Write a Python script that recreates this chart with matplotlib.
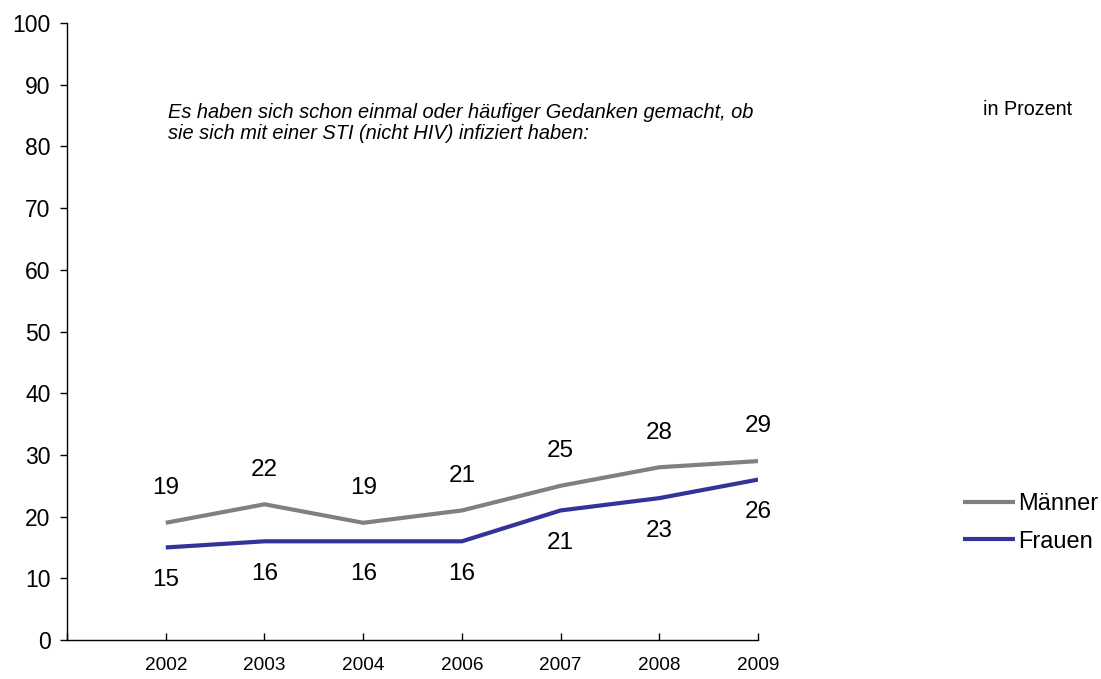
import matplotlib
matplotlib.use("Agg")
import matplotlib.pyplot as plt

plt.rcParams['font.family'] = ['Liberation Sans', 'DejaVu Sans']

# Daten
jahre = ['2002', '2003', '2004', '2006', '2007', '2008', '2009']
maenner = [19, 22, 19, 21, 25, 28, 29]
frauen = [15, 16, 16, 16, 21, 23, 26]

grau = '#808080'
blau = '#333399'

fig = plt.figure(figsize=(11.01, 6.79), dpi=100)
ax = fig.add_axes([0.0609, 0.0574, 0.6276, 0.9087])

x = list(range(len(jahre)))
ax.plot(x, maenner, color=grau, lw=3, label='Männer', solid_capstyle='butt')
ax.plot(x, frauen, color=blau, lw=3, label='Frauen', solid_capstyle='butt')

# Datenbeschriftungen: Männer oben, Frauen unten
for i in x:
    ax.annotate(str(maenner[i]), (i, maenner[i]), xytext=(0, 25), textcoords='offset points',
                ha='center', va='center', fontsize=17.5)
    ax.annotate(str(frauen[i]), (i, frauen[i]), xytext=(0, -23.5), textcoords='offset points',
                ha='center', va='center', fontsize=17.5)

ax.set_xlim(-1, len(jahre) - 1)
ax.set_ylim(0, 100)
ax.set_yticks(range(0, 101, 10))
ax.tick_params(axis='y', direction='out', length=5, width=1, labelsize=16.5, pad=7)
ax.set_xticks(range(-1, len(jahre)))
ax.set_xticklabels([''] + jahre)
ax.tick_params(axis='x', direction='in', length=5, width=1, labelsize=13.7, pad=12)

for s in ['top', 'right']:
    ax.spines[s].set_visible(False)
for s in ['left', 'bottom']:
    ax.spines[s].set_linewidth(1)
ax.spines['bottom'].set_bounds(-1, len(jahre) - 1)

fig.text(0.1526, 0.819, 'Es haben sich schon einmal oder häufiger Gedanken gemacht, ob\n'
         'sie sich mit einer STI (nicht HIV) infiziert haben:',
         fontsize=14.4, style='italic', va='center', ha='left', linespacing=1.15)
fig.text(0.9737, 0.838, 'in Prozent', fontsize=14.2, ha='right', va='center')

fig.legend(loc='center left', bbox_to_anchor=(0.8747, 0.230), frameon=False,
           fontsize=17, handlelength=2.2, handletextpad=0.13, labelspacing=0.65,
           borderaxespad=0, borderpad=0)

fig.savefig('out.png', dpi=100)
